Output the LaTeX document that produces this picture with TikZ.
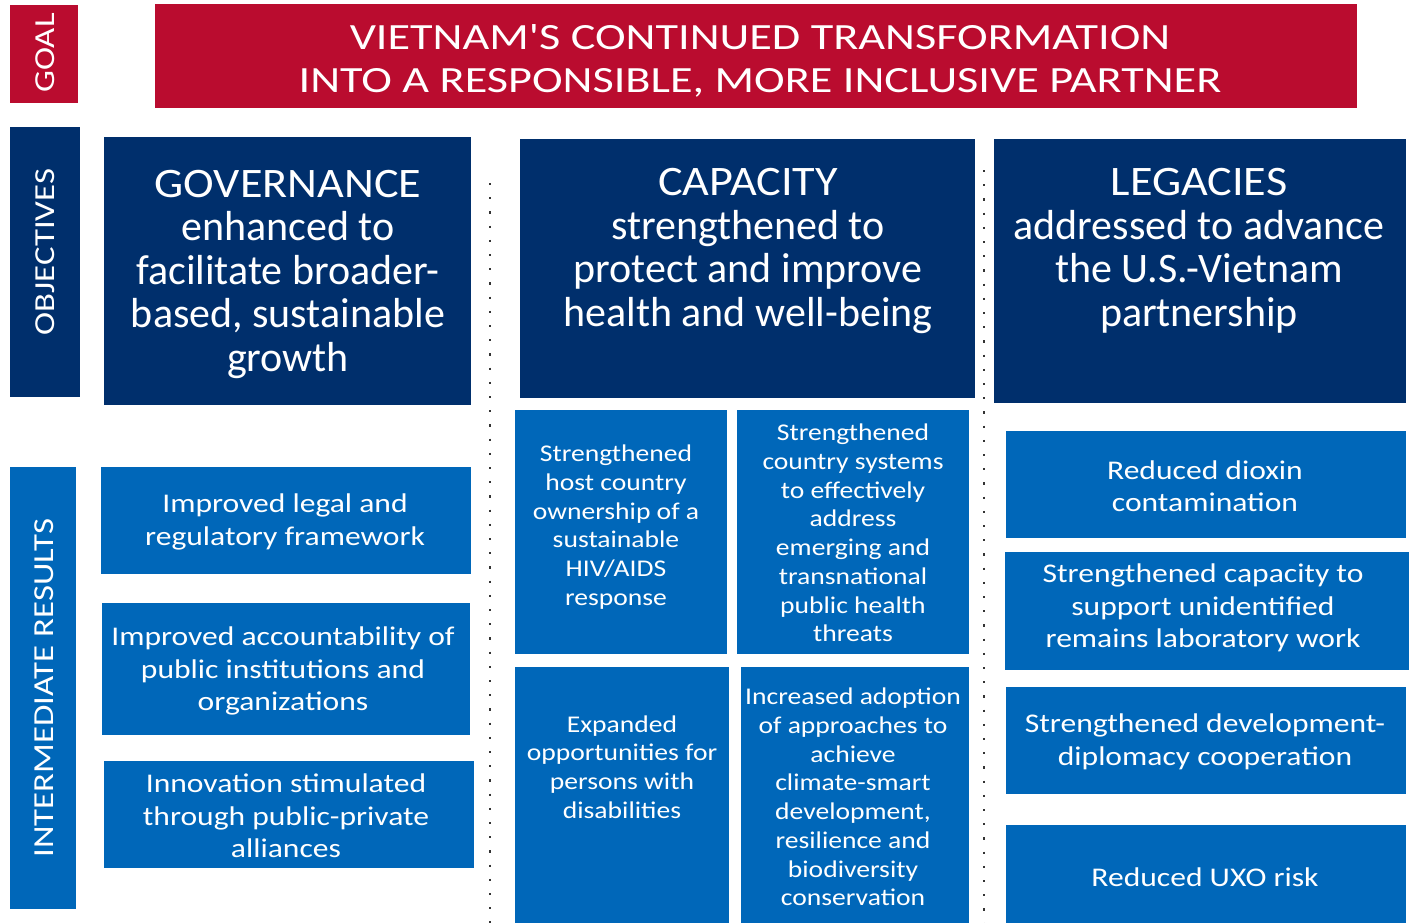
\documentclass[tikz,border=0pt]{standalone}
\usepackage{fontspec}
\setmainfont{Carlito}
\newfontfamily\fwideA[FakeStretch=1.25]{Carlito}
\newfontfamily\fwideL[FakeStretch=1.2]{Carlito}
\newfontfamily\fwideB[FakeStretch=1.1]{Carlito}
\newfontfamily\fwideC[FakeStretch=1.17]{Carlito}
\newfontfamily\fwideD[FakeStretch=1.15]{Carlito}
\definecolor{usred}{HTML}{BA0C2F}
\definecolor{usnavy}{HTML}{002F6C}
\definecolor{usblue}{HTML}{0067B9}
\begin{document}
\begin{tikzpicture}[x=1pt,y=-1pt,
  box/.style={anchor=north west,inner sep=0pt,outer sep=0pt,draw=none},
  lbl/.style={text=white,rotate=90,font=\fwideL\fontsize{29}{30}\selectfont},
  ttl/.style={text=white,align=center,font=\fwideA\fontsize{37}{43.5}\selectfont},
  obj/.style={text=white,align=center,font=\fontsize{42}{43.5}\selectfont},
  ir/.style={text=white,align=center,font=\fwideC\fontsize{27}{32.5}\selectfont},
  irs/.style={text=white,align=center,font=\fwideD\fontsize{24}{28.7}\selectfont},
  dots/.style={line width=2.2pt,dash pattern=on 2.2pt off 12pt,black!80}]
\useasboundingbox[fill=white] (0,0) rectangle (1411,923);
% left labels
\node[box,fill=usred,minimum width=68pt,minimum height=98pt] (goalbox) at (10,5) {};
\node[box,fill=usnavy,minimum width=70pt,minimum height=270pt] (objbox) at (10,127) {};
\node[box,fill=usblue,minimum width=66pt,minimum height=442pt] (irbox) at (10,467) {};
\node[lbl] (goallbl) at (45,53) {GOAL};
\node[lbl] (objlbl) at (45,252) {OBJECTIVES};
\node[lbl] (irlbl) at (44,688) {INTERMEDIATE RESULTS};
% goal
\node[box,fill=usred,minimum width=1202pt,minimum height=104pt] (goal) at (155,4) {};
\node[ttl] (goaltxt) at (760,61) {VIETNAM{\char"27}S CONTINUED TRANSFORMATION\\INTO A RESPONSIBLE, MORE INCLUSIVE PARTNER};
% objectives
\node[box,fill=usnavy,minimum width=367pt,minimum height=268pt] (gov) at (104,137) {};
\node[obj] (govtxt) at (288,274) {{\fwideB GOVERNANCE}\\enhanced to\\facilitate broader-\\based, sustainable\\growth};
\node[box,fill=usnavy,minimum width=455pt,minimum height=259pt] (cap) at (520,139) {};
\node[obj] (captxt) at (748,251) {{\fwideB CAPACITY}\\strengthened to\\protect and improve\\health and well-being};
\node[box,fill=usnavy,minimum width=412pt,minimum height=264pt] (leg) at (994,139) {};
\node[obj] (legtxt) at (1199,251) {{\fwideB LEGACIES}\\addressed to advance\\the U.S.-Vietnam\\partnership};
% governance IRs
\node[box,fill=usblue,minimum width=370pt,minimum height=107pt] (g1) at (101,467) {};
\node[ir] (g1t) at (285,522) {Improved legal and\\regulatory framework};
\node[box,fill=usblue,minimum width=368pt,minimum height=132pt] (g2) at (102,603) {};
\node[ir] (g2t) at (283,671) {Improved accountability of\\public institutions and\\organizations};
\node[box,fill=usblue,minimum width=370pt,minimum height=107pt] (g3) at (104,761) {};
\node[ir] (g3t) at (286,816) {Innovation stimulated\\through public-private\\alliances};
% capacity IRs
\node[box,fill=usblue,minimum width=212pt,minimum height=244pt] (c1) at (515,410) {};
\node[irs] (c1t) at (616,527) {Strengthened\\host country\\ownership of a\\sustainable\\HIV/AIDS\\response};
\node[box,fill=usblue,minimum width=232pt,minimum height=244pt] (c2) at (737,410) {};
\node[irs] (c2t) at (853,533) {Strengthened\\country systems\\to effectively\\address\\emerging and\\transnational\\public health\\threats};
\node[box,fill=usblue,minimum width=214pt,minimum height=260pt] (c3) at (515,667) {};
\node[irs] (c3t) at (622,767) {Expanded\\opportunities for\\persons with\\disabilities};
\node[box,fill=usblue,minimum width=228pt,minimum height=260pt] (c4) at (741,667) {};
\node[irs] (c4t) at (853,797) {Increased adoption\\of approaches to\\achieve\\climate-smart\\development,\\resilience and\\biodiversity\\conservation};
% legacies IRs
\node[box,fill=usblue,minimum width=400pt,minimum height=107pt] (l1) at (1006,431) {};
\node[ir] (l1t) at (1205,486) {Reduced dioxin\\contamination};
\node[box,fill=usblue,minimum width=404pt,minimum height=118pt] (l2) at (1005,552) {};
\node[ir] (l2t) at (1203,608) {Strengthened capacity to\\support unidentified\\remains laboratory work};
\node[box,fill=usblue,minimum width=400pt,minimum height=107pt] (l3) at (1006,687) {};
\node[ir] (l3t) at (1205,742) {Strengthened development-\\diplomacy cooperation};
\node[box,fill=usblue,minimum width=400pt,minimum height=110pt] (l4) at (1006,825) {};
\node[ir] (l4t) at (1205,877) {Reduced UXO risk};
% dotted separators
\coordinate (d1a) at (490,183);
\coordinate (d1b) at (490,923);
\coordinate (d2a) at (984,170);
\coordinate (d2b) at (984,923);
\draw[dots] (d1a) -- (d1b);
\draw[dots] (d2a) -- (d2b);
\end{tikzpicture}
\end{document}
